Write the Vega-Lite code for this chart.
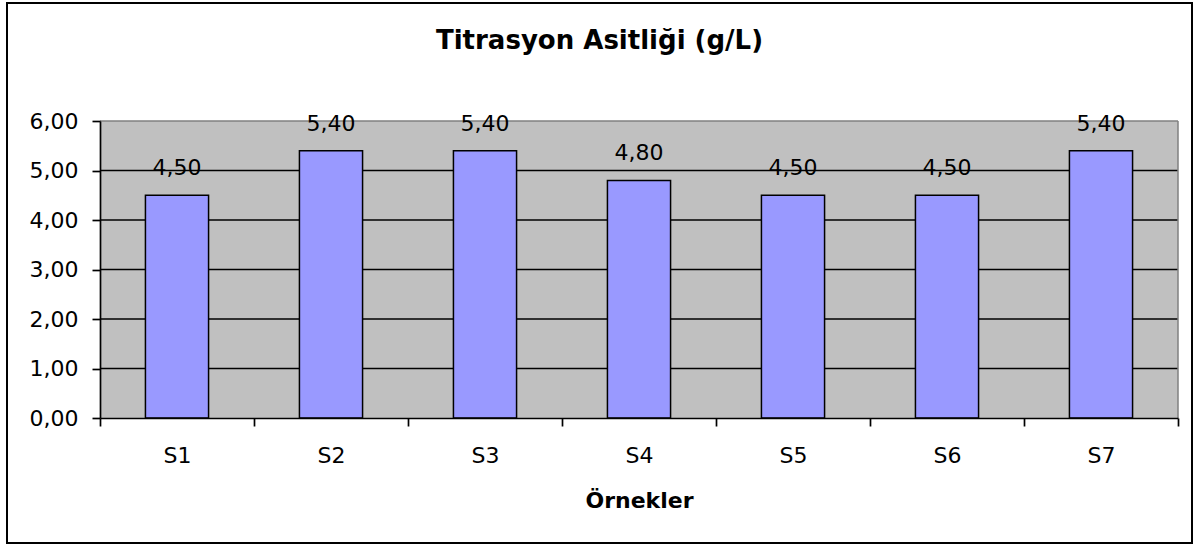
{
  "$schema": "https://vega.github.io/schema/vega-lite/v6.json",
  "width": 1185,
  "height": 540,
  "autosize": "none",
  "padding": {"left": 7, "top": 3, "right": 7, "bottom": 3},
  "background": "white",
  "config": {
    "view": {"stroke": "#000000", "strokeWidth": 2, "fill": "white"},
    "font": "DejaVu Sans",
    "axis": {"grid": false},
    "locale": {"number": {"decimal": ",", "thousands": ".", "grouping": [3], "currency": ["", " TL"]}}
  },
  "title": {
    "text": "Titrasyon Asitliği (g/L)",
    "font": "DejaVu Sans",
    "fontSize": 26,
    "fontWeight": "bold",
    "color": "#000000",
    "anchor": "middle",
    "frame": "group",
    "baseline": "alphabetic",
    "offset": -47,
    "dy": 25
  },
  "data": {
    "values": [
      {"sample": "S1", "value": 4.5},
      {"sample": "S2", "value": 5.4},
      {"sample": "S3", "value": 5.4},
      {"sample": "S4", "value": 4.8},
      {"sample": "S5", "value": 4.5},
      {"sample": "S6", "value": 4.5},
      {"sample": "S7", "value": 5.4}
    ]
  },
  "layer": [
    {
      "layer": [
        {
          "data": {"values": [{"plot": "area"}]},
          "mark": {"type": "rect", "fill": "#C0C0C0", "stroke": null},
          "encoding": {
            "x": {"datum": 0, "type": "quantitative", "scale": {"domain": [0, 7], "range": [93, 1171], "nice": false, "zero": false}, "axis": null},
            "x2": {"datum": 7},
            "y": {"datum": 0, "type": "quantitative", "scale": {"domain": [0, 6], "range": [415, 118], "nice": false, "zero": true}},
            "y2": {"datum": 6}
          }
        },
        {
          "data": {"values": [{"g": 1}, {"g": 2}, {"g": 3}, {"g": 4}, {"g": 5}]},
          "mark": {"type": "rule", "color": "#000000", "strokeWidth": 1.3},
          "encoding": {
            "x": {"datum": 0, "type": "quantitative", "scale": {"domain": [0, 7], "range": [93, 1171], "nice": false, "zero": false}, "axis": null},
            "x2": {"datum": 7},
            "y": {"field": "g", "type": "quantitative", "scale": {"domain": [0, 6], "range": [415, 118], "nice": false, "zero": true}}
          }
        },
        {
          "data": {"values": [{"g": 6}]},
          "mark": {"type": "rule", "color": "#808080", "strokeWidth": 1.5},
          "encoding": {
            "x": {"datum": 0, "type": "quantitative", "scale": {"domain": [0, 7], "range": [93, 1171], "nice": false, "zero": false}, "axis": null},
            "x2": {"datum": 7},
            "y": {"field": "g", "type": "quantitative", "scale": {"domain": [0, 6], "range": [415, 118], "nice": false, "zero": true}}
          }
        },
        {
          "data": {"values": [{"edge": 7}]},
          "mark": {"type": "rule", "color": "#808080", "strokeWidth": 1.5},
          "encoding": {
            "x": {"field": "edge", "type": "quantitative", "scale": {"domain": [0, 7], "range": [93, 1171], "nice": false, "zero": false}, "axis": null},
            "y": {"datum": 0, "type": "quantitative", "scale": {"domain": [0, 6], "range": [415, 118], "nice": false, "zero": true}},
            "y2": {"datum": 6}
          }
        }
      ]
    },
    {
      "layer": [
        {
          "mark": {"type": "bar", "fill": "#9999FF", "stroke": "#000000", "strokeWidth": 1.5, "width": {"band": 0.41}},
          "encoding": {
            "x": {
              "field": "sample", "type": "nominal", "sort": null,
              "scale": {"range": [93, 1171], "paddingInner": 0, "paddingOuter": 0},
              "axis": {
                "title": "Örnekler", "titleFont": "DejaVu Sans", "titleFontSize": 22, "titleFontWeight": "bold", "titleColor": "#000000",
                "titleY": 89, "titleBaseline": "alphabetic",
                "tickBand": "extent", "labelAngle": 0, "offset": -125, "zindex": 1,
                "labelFontSize": 22, "labelColor": "#000000", "labelPadding": 19,
                "tickSize": 8, "tickColor": "#000000", "tickWidth": 1.7,
                "domainColor": "#000000", "domainWidth": 1.7
              }
            },
            "y": {
              "field": "value", "type": "quantitative",
              "scale": {"domain": [0, 6], "range": [415, 118], "nice": false, "zero": true},
              "axis": {
                "title": null, "values": [0, 1, 2, 3, 4, 5, 6], "format": ".2f",
                "offset": -93, "zindex": 1,
                "labelFontSize": 22, "labelColor": "#000000", "labelPadding": 14,
                "tickSize": 8, "tickColor": "#000000", "tickWidth": 1.7,
                "domainColor": "#000000", "domainWidth": 1.7
              }
            }
          }
        },
        {
          "mark": {"type": "text", "baseline": "alphabetic", "align": "center", "dy": -20, "fontSize": 22, "color": "#000000"},
          "encoding": {
            "x": {"field": "sample", "type": "nominal", "sort": null},
            "y": {"field": "value", "type": "quantitative"},
            "text": {"field": "value", "type": "quantitative", "format": ".2f"}
          }
        }
      ]
    }
  ],
  "resolve": {"scale": {"x": "independent"}}
}
